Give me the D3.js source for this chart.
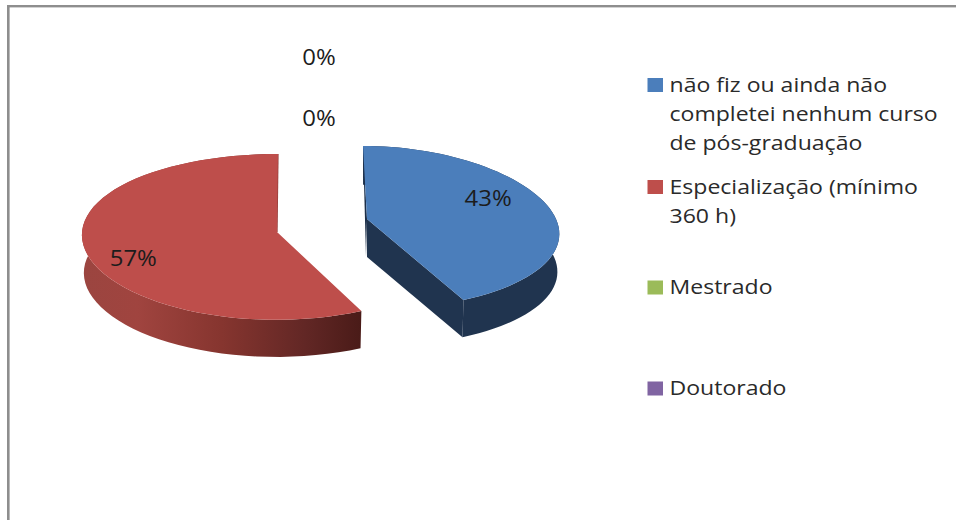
<!DOCTYPE html>
<html>
<head>
<meta charset="utf-8">
<script src="https://cdn.jsdelivr.net/npm/d3@7/dist/d3.min.js"></script>
<style>
  html, body { margin: 0; padding: 0; background: #fff; }
  svg { display: block; }
  text { font-family: "Open Sans", sans-serif; }
</style>
</head>
<body>
<svg id="chart" width="956" height="520"></svg>
<script>
// Formação em pós-graduação: shares per category
const categories = [
  ["não fiz ou ainda não", "completei nenhum curso", "de pós-graduação"],
  ["Especialização (mínimo", "360 h)"],
  ["Mestrado"],
  ["Doutorado"]
];
const values = [43, 57, 0, 0];
const percentLabels = ["43%", "57%", "0%", "0%"];
const topColors = ["#4b7ebb", "#be4e4b", "#9bbb59", "#8064a2"];

// Tilted-disc geometry of each exploded wedge
const wedgeGeometry = [
  { cx: 367, cy: 219, rx: 189, ry: 81.7, kx: 0.17, ky: 0.106, shear: 4, shrink: 0.99, labelAt: 0.657, labelDrop: -21 },
  { cx: 277, cy: 232, rx: 195, ry: 82.9, kx: 0.03, ky: 0.059, shear: -1, shrink: 0.99, labelAt: 0.755, labelDrop: 26 }
];
const depth = 38;

const svg = d3.select("#chart");

// Frame of the chart area
const frameColor = "#8e8e8e";
svg.append("rect").attr("x", 7).attr("y", 5).attr("width", 949).attr("height", 2.4).attr("fill", frameColor);
svg.append("rect").attr("x", 7).attr("y", 5).attr("width", 2.6).attr("height", 515).attr("fill", frameColor);

// Horizontal shading on the red wall
const defs = svg.append("defs");
const wallShade = defs.append("linearGradient").attr("id", "wallShade")
  .attr("gradientUnits", "userSpaceOnUse")
  .attr("x1", 82).attr("x2", 361).attr("y1", 0).attr("y2", 0);
[[0, "#9b4540"], [0.2, "#a0443f"], [0.5, "#86352f"], [0.8, "#622725"], [1, "#4a1b18"]]
  .forEach(([o, c]) => wallShade.append("stop").attr("offset", o).attr("stop-color", c));

const pie = d3.pie().sort(null).value(d => d);
const arcs = pie(values);

// Map a pie angle and radius fraction onto the tilted plane of a wedge
function project(g, angle, t = 1, dy = 0) {
  const u = Math.sin(angle), v = -Math.cos(angle);
  return [
    g.cx + t * (g.rx * u * (1 + g.kx * v) + g.shear * v),
    g.cy + dy + t * g.ry * v * (1 + g.ky * v)
  ];
}

const line = d3.line();
const rimAngles = a => d3.range(0, 61).map(i => a.startAngle + (a.endAngle - a.startAngle) * i / 60);

const wallFill = ["#20344f", "url(#wallShade)"];
const edgeFill = ["#1c2f49", "#8c3a36"];

// Walls first, top faces over them
wedgeGeometry.forEach((g, i) => {
  const angles = rimAngles(arcs[i]);
  const upper = angles.map(a => project(g, a));
  const lower = angles.map(a => project(g, a, g.shrink, depth)).reverse();
  svg.append("path").attr("d", line(upper.concat(lower)) + "Z").attr("fill", wallFill[i]);

  const apex = [g.cx, g.cy];
  const apexLow = [g.cx, g.cy + depth];
  // Flat cut face along the closing edge of the wedge
  if (i === 0) {
    const endRim = upper[upper.length - 1];
    const endLow = lower[0];
    svg.append("path").attr("d", line([apex, endRim, endLow, apexLow]) + "Z").attr("fill", wallFill[i]);
    svg.append("path").attr("d", line([upper[0], [g.cx - 1, g.cy + depth], apex]) + "Z").attr("fill", edgeFill[i]);
  } else {
    svg.append("path").attr("d", line([upper[upper.length - 1], apex]))
      .attr("fill", "none").attr("stroke", edgeFill[i]).attr("stroke-width", 1.2);
  }

  svg.append("path").attr("d", line([apex].concat(upper)) + "Z").attr("fill", topColors[i]);
});

// Horizontally widened text, as the chart's typeface runs broad
function wideText(x, y, size, stretch, color, anchor, txt) {
  svg.append("text")
    .attr("transform", `translate(${x},${y}) scale(${stretch},1)`)
    .attr("text-anchor", anchor).attr("font-size", size).attr("fill", color)
    .text(txt);
}

// Percentage labels on the wedges
const labelColor = "#1c1c1c";
const labelFont = 21;
const labelStretch = 1.14;
wedgeGeometry.forEach((g, i) => {
  const a = (arcs[i].startAngle + arcs[i].endAngle) / 2;
  const x = g.cx + Math.sin(a) * g.rx * g.labelAt;
  const y = g.cy + g.labelDrop;
  wideText(x, y + 8, labelFont, labelStretch, labelColor, "middle", percentLabels[i]);
});

// Labels of the empty categories sit above the gap
const zeroLabelBaselines = [65, 126];
zeroLabelBaselines.forEach((y, i) => {
  wideText(319, y, labelFont, labelStretch, labelColor, "middle", percentLabels[i + 2]);
});

// Legend
const legendFirstBaselines = [91.5, 193.5, 294, 395];
const legendLinePitch = 29.3;
const legendFont = 20.5;
const legendStretch = 1.125;
categories.forEach((lines, i) => {
  const base = legendFirstBaselines[i];
  svg.append("rect").attr("x", 647.5).attr("y", base - 13.5).attr("width", 15.5).attr("height", 14)
    .attr("fill", topColors[i]);
  lines.forEach((txt, j) => {
    wideText(669.5, base + j * legendLinePitch, legendFont, legendStretch, "#2a2a2a", "start", txt);
  });
});
</script>
</body>
</html>
